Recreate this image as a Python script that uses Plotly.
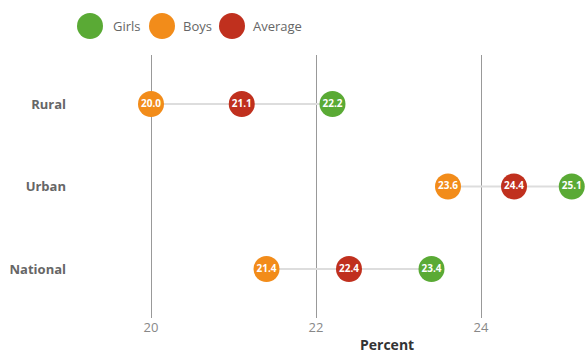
import plotly.graph_objects as go

categories = ["Rural", "Urban", "National"]
girls = [22.2, 25.1, 23.4]
boys = [20.0, 23.6, 21.4]
average = [21.1, 24.4, 22.4]
x_ticks = [20, 22, 24]

series = [("Boys", boys, "#F28C1A"), ("Average", average, "#C0301E"), ("Girls", girls, "#5AAA35")]
legend_order = [("Girls", "#5AAA35"), ("Boys", "#F28C1A"), ("Average", "#C0301E")]

W, H = 587, 354
ML, MR, MT, MB = 75, 0, 55, 36
PW, PH = W - ML - MR, H - MT - MB

FONT = "Open Sans"

fig = go.Figure()

# connecting lines
lx, ly = [], []
for c, g, b, a in zip(categories, girls, boys, average):
    lx += [min(g, b, a), max(g, b, a), None]
    ly += [c, c, None]
fig.add_trace(go.Scatter(x=lx, y=ly, mode="lines", line=dict(color="#DDDDDD", width=2),
                         hoverinfo="skip", showlegend=False))

for name, vals, col in series:
    fig.add_trace(go.Scatter(
        x=vals, y=categories, mode="markers+text", name=name,
        marker=dict(size=26, color=col, line=dict(width=0)),
        texttemplate="%{x:.1f}", textposition="middle center",
        textfont=dict(color="white", size=10, family=FONT, weight="bold"),
        cliponaxis=False, showlegend=False))

# x range from pixel layout: 20 at px 151, 82.5 px per unit
ppu = 82.5
x0 = 20 - (151 - ML) / ppu
x1 = x0 + PW / ppu
# y range: 82.5 px per category, first center at px 104
yppu = 82.5
y_top = -(104 - MT) / yppu
y_bot = y_top + PH / yppu

shapes, annotations = [], []
lx_pos = [90, 162, 232]
tx_pos = [111, 181, 251]
for (name, col), cx, tx in zip(legend_order, lx_pos, tx_pos):
    px = (cx - ML) / PW
    py = (MT + PH - 26) / PH
    shapes.append(dict(type="circle", xref="paper", yref="paper", xsizemode="pixel", ysizemode="pixel",
                       xanchor=px, yanchor=py, x0=-13, x1=13, y0=-13, y1=13,
                       fillcolor=col, line=dict(width=0)))
    annotations.append(dict(x=(tx - ML) / PW, y=py, xref="paper", yref="paper", text=name,
                            showarrow=False, xanchor="left", yanchor="middle",
                            font=dict(family=FONT, size=13, color="#666666")))

annotations.append(dict(x=(387 - ML) / PW, y=(MT + PH - 344) / PH, xref="paper", yref="paper",
                        text="<b>Percent</b>", showarrow=False, xanchor="center", yanchor="middle",
                        font=dict(family=FONT, size=14, color="#333333")))

fig.update_layout(
    width=W, height=H,
    margin=dict(l=ML, r=MR, t=MT, b=MB),
    paper_bgcolor="white", plot_bgcolor="white",
    showlegend=False,
    shapes=shapes, annotations=annotations,
    xaxis=dict(range=[x0, x1], tickvals=x_ticks, showgrid=True, gridcolor="#999999", gridwidth=1,
               zeroline=False, showline=False, ticks="",
               tickfont=dict(family=FONT, size=13, color="#888888")),
    yaxis=dict(type="category", categoryorder="array", categoryarray=categories,
               range=[y_bot, y_top], showgrid=False, zeroline=False, showline=False,
               ticks="", ticklabelstandoff=8,
               tickfont=dict(family=FONT, size=13, color="#666666", weight="bold")),
    font=dict(family=FONT),
)

fig.write_html("out.html", config={"displayModeBar": False},
               post_script="document.body.style.margin='0';document.body.style.overflow='hidden';")
